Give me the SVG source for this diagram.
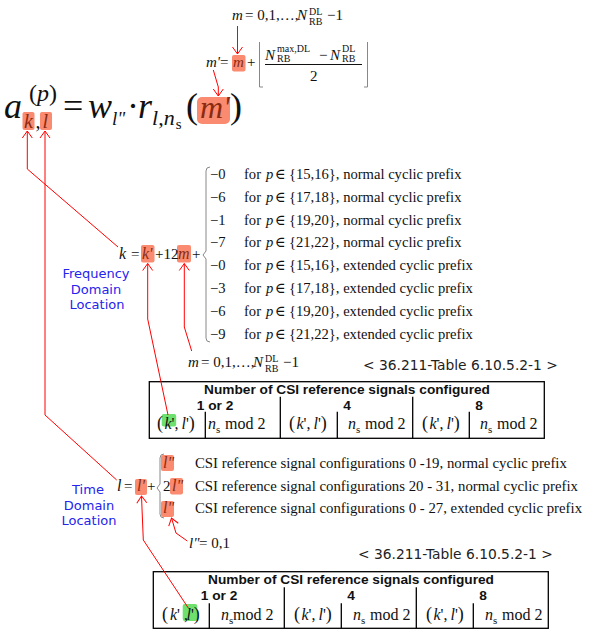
<svg xmlns="http://www.w3.org/2000/svg" width="591" height="633" viewBox="0 0 591 633">
<defs>
<style>
.m{font-family:"Liberation Serif","Times New Roman","DejaVu Serif",serif;fill:#111}
.i{font-style:italic}
.hv{fill:#8a2a10}
.hl{fill:#fa8a70}
.hg{fill:#6ee06e}
.lbl{font-family:"DejaVu Sans",Verdana,sans-serif;font-size:13px;fill:#2424ee;text-anchor:middle}
.cap{font-family:"DejaVu Sans",Verdana,sans-serif;font-size:13.8px;fill:#222}
.th{font-family:"Liberation Sans",Arial,sans-serif;font-size:13.7px;font-weight:bold;fill:#111;text-anchor:middle}
.tb{fill:none;stroke:#000;stroke-width:1.3}
.br{fill:none;stroke:#888;stroke-width:1}
.cn{fill:none;stroke:#f00;stroke-width:1;marker-end:url(#ah)}
</style>
<marker id="ah" viewBox="-9 -6 10 12" markerWidth="10" markerHeight="12" refX="0" refY="0" orient="auto" markerUnits="userSpaceOnUse">
<path d="M-7,-5 L0,0 L-7,5" fill="none" stroke="#f00" stroke-width="1"/>
</marker>
</defs>
<rect width="591" height="633" fill="#fff"/>

<g id="eq-m-range-top" class="m" font-size="15">
<text y="20"><tspan x="232" class="i">m</tspan><tspan x="245">= 0,1,…,</tspan><tspan x="297" class="i">N</tspan></text>
<text x="309" y="15" font-size="10">DL</text>
<text x="309" y="25" font-size="10">RB</text>
<text x="327" y="20">−1</text>
</g>

<g id="eq-mprime" class="m" font-size="15">
<rect class="hl" x="232" y="55" width="13.5" height="16.5" rx="2"/>
<text x="206" y="67" class="i">m'</text>
<text x="220" y="67">=</text>
<text x="233" y="67" class="i hv">m</text>
<text x="247" y="67">+</text>
<path class="br" d="M259.5,42 L259.5,87 L263,87 M367.5,42 L367.5,87 L364,87"/>
<text x="265" y="60" class="i">N</text>
<text x="277" y="52" font-size="10">max,DL</text>
<text x="277" y="62" font-size="10">RB</text>
<text x="319" y="60">−</text>
<text x="330" y="60" class="i">N</text>
<text x="342" y="52" font-size="10">DL</text>
<text x="342" y="62" font-size="10">RB</text>
<line x1="265" y1="64.5" x2="362" y2="64.5" stroke="#111" stroke-width="1"/>
<text x="310" y="81">2</text>
</g>

<g id="eq-main" class="m">
<rect class="hl" x="22.5" y="112" width="12" height="18" rx="2"/>
<rect class="hl" x="40" y="112" width="12" height="18" rx="2"/>
<rect class="hl" x="197" y="97" width="33" height="27" rx="5"/>
<text x="4" y="118" font-size="36" class="i">a</text>
<text x="29" y="101" font-size="24">(<tspan class="i">p</tspan>)</text>
<text y="128" font-size="20"><tspan x="24" class="i hv">k</tspan><tspan x="35.5">,</tspan><tspan x="42.5" class="i hv">l</tspan></text>
<text x="63" y="118" font-size="36">=</text>
<text x="88" y="118" font-size="36" class="i">w</text>
<text x="112" y="125" font-size="19" class="i">l"</text>
<text x="127" y="118" font-size="36">·</text>
<text x="138" y="118" font-size="36" class="i">r</text>
<text x="152" y="125" font-size="22"><tspan class="i">l</tspan>,<tspan class="i">n</tspan><tspan font-size="15" dx="1" dy="4">s</tspan></text>
<text x="186" y="118" font-size="36">(</text>
<text x="200" y="118" font-size="32" class="i hv">m'</text>
<text x="230" y="118" font-size="36">)</text>
</g>

<g id="eq-k" class="m" font-size="15">
<rect class="hl" x="141" y="245" width="13.5" height="17.5" rx="2"/>
<rect class="hl" x="177" y="245" width="14" height="17.5" rx="2"/>
<text x="119" y="259" font-size="16" class="i">k</text>
<text x="131" y="259">=</text>
<text x="142" y="259" font-size="16" class="i hv">k'</text>
<text x="155" y="259">+12</text>
<text x="178" y="259" font-size="16" class="i hv">m</text>
<text x="192" y="259">+</text>
</g>

<g id="k-cases" class="m" font-size="14.6">
<path class="br" d="M210,167 Q206,167 206,171 L206,251 L203,255 L206,259 L206,338 Q206,342 210,342"/>
<text y="179"><tspan x="210">−0</tspan><tspan x="244">for</tspan><tspan x="266" class="i">p</tspan><tspan x="275">∈</tspan><tspan x="289">{15,16}, normal cyclic prefix</tspan></text>
<text y="201.8"><tspan x="210">−6</tspan><tspan x="244">for</tspan><tspan x="266" class="i">p</tspan><tspan x="275">∈</tspan><tspan x="289">{17,18}, normal cyclic prefix</tspan></text>
<text y="224.6"><tspan x="210">−1</tspan><tspan x="244">for</tspan><tspan x="266" class="i">p</tspan><tspan x="275">∈</tspan><tspan x="289">{19,20}, normal cyclic prefix</tspan></text>
<text y="247.4"><tspan x="210">−7</tspan><tspan x="244">for</tspan><tspan x="266" class="i">p</tspan><tspan x="275">∈</tspan><tspan x="289">{21,22}, normal cyclic prefix</tspan></text>
<text y="270.2"><tspan x="210">−0</tspan><tspan x="244">for</tspan><tspan x="266" class="i">p</tspan><tspan x="275">∈</tspan><tspan x="289">{15,16}, extended cyclic prefix</tspan></text>
<text y="293"><tspan x="210">−3</tspan><tspan x="244">for</tspan><tspan x="266" class="i">p</tspan><tspan x="275">∈</tspan><tspan x="289">{17,18}, extended cyclic prefix</tspan></text>
<text y="315.8"><tspan x="210">−6</tspan><tspan x="244">for</tspan><tspan x="266" class="i">p</tspan><tspan x="275">∈</tspan><tspan x="289">{19,20}, extended cyclic prefix</tspan></text>
<text y="338.6"><tspan x="210">−9</tspan><tspan x="244">for</tspan><tspan x="266" class="i">p</tspan><tspan x="275">∈</tspan><tspan x="289">{21,22}, extended cyclic prefix</tspan></text>
</g>

<g id="freq-label">
<text class="lbl" x="96" y="278">Frequency</text>
<text class="lbl" x="96" y="294">Domain</text>
<text class="lbl" x="97" y="309">Location</text>
</g>

<g id="m-range" class="m" font-size="15">
<text y="367"><tspan x="188" class="i">m</tspan><tspan x="201">= 0,1,…,</tspan><tspan x="253" class="i">N</tspan></text>
<text x="265" y="362" font-size="10">DL</text>
<text x="265" y="372" font-size="10">RB</text>
<text x="283" y="367">−1</text>
</g>

<g id="table1-caption"><text class="cap" x="363" y="370">&lt; 36.211-Table 6.10.5.2-1 &gt;</text></g>

<g id="table1">
<rect class="tb" x="149.3" y="381.7" width="395" height="56.6"/>
<path class="tb" d="M280.3,396.7 V438.3 M412.7,396.7 V438.3 M205.3,411.7 V438.3 M337.3,411.7 V438.3 M469.3,411.7 V438.3"/>
<text class="th" x="347" y="394">Number of CSI reference signals configured</text>
<text class="th" x="215" y="410">1 or 2</text>
<text class="th" x="347" y="410">4</text>
<text class="th" x="479" y="410">8</text>
<rect class="hg" x="161.7" y="414" width="14.5" height="12.5" rx="2"/>
<g class="m" font-size="16">
<text y="429"><tspan x="157" font-size="18">(</tspan><tspan x="164.5" class="i">k</tspan>',<tspan x="181.5" class="i">l</tspan>'<tspan font-size="18">)</tspan></text>
<text y="429"><tspan x="208" class="i">n</tspan><tspan font-size="11" dy="4">s</tspan><tspan x="225" dy="-4">mod 2</tspan></text>
<text y="429"><tspan x="289" font-size="18">(</tspan><tspan x="296.5" class="i">k</tspan>',<tspan x="313.5" class="i">l</tspan>'<tspan font-size="18">)</tspan></text>
<text y="429"><tspan x="348" class="i">n</tspan><tspan font-size="11" dy="4">s</tspan><tspan x="365" dy="-4">mod 2</tspan></text>
<text y="429"><tspan x="422" font-size="18">(</tspan><tspan x="429.5" class="i">k</tspan>',<tspan x="446.5" class="i">l</tspan>'<tspan font-size="18">)</tspan></text>
<text y="429"><tspan x="480" class="i">n</tspan><tspan font-size="11" dy="4">s</tspan><tspan x="497" dy="-4">mod 2</tspan></text>
</g>
</g>

<g id="eq-l" class="m" font-size="15">
<rect class="hl" x="135" y="479" width="12" height="16" rx="2"/>
<text x="117" y="491" font-size="16" class="i">l</text>
<text x="124" y="491">=</text>
<text x="137" y="491" font-size="16" class="i hv">l'</text>
<text x="147" y="491">+</text>
</g>

<g id="l-cases" class="m" font-size="14.8">
<path class="br" d="M164,454 Q160,454 160,458 L160,484 L157,488 L160,492 L160,514 Q160,518 164,518"/>
<rect class="hl" x="161" y="455" width="13" height="16" rx="2"/>
<rect class="hl" x="170" y="478" width="13" height="16.5" rx="2"/>
<rect class="hl" x="161" y="501" width="13" height="16" rx="2"/>
<text x="163" y="468" font-size="16" class="i hv">l"</text>
<text x="163" y="491" font-size="15">2</text>
<text x="172" y="491" font-size="16" class="i hv">l"</text>
<text x="163" y="513" font-size="16" class="i hv">l"</text>
<text x="195" y="468">CSI reference signal configurations 0 -19, normal cyclic prefix</text>
<text x="195" y="491">CSI reference signal configurations 20 - 31, normal cyclic prefix</text>
<text x="195" y="513">CSI reference signal configurations 0 - 27, extended cyclic prefix</text>
</g>

<g id="time-label">
<text class="lbl" x="88" y="494">Time</text>
<text class="lbl" x="89" y="510">Domain</text>
<text class="lbl" x="89" y="525">Location</text>
</g>

<g id="lpp-range" class="m" font-size="15">
<text y="548"><tspan x="189" class="i">l"</tspan><tspan x="199">= 0,1</tspan></text>
</g>

<g id="table2-caption"><text class="cap" x="358" y="559">&lt; 36.211-Table 6.10.5.2-1 &gt;</text></g>

<g id="table2">
<rect class="tb" x="153.3" y="571.7" width="395" height="56.6"/>
<path class="tb" d="M284.3,587.3 V628.3 M416.3,587.3 V628.3 M209.3,603.3 V628.3 M341.3,603.3 V628.3 M473.3,603.3 V628.3"/>
<text class="th" x="351" y="583.5">Number of CSI reference signals configured</text>
<text class="th" x="219" y="600">1 or 2</text>
<text class="th" x="351" y="600">4</text>
<text class="th" x="483" y="600">8</text>
<rect class="hg" x="182.7" y="604" width="14.5" height="17" rx="2"/>
<g class="m" font-size="16">
<text y="620"><tspan x="162" font-size="18">(</tspan><tspan x="170" class="i">k</tspan>' ,<tspan x="186.5" class="i">l</tspan>'<tspan font-size="18">)</tspan></text>
<text y="620"><tspan x="221" class="i">n</tspan><tspan font-size="11" dy="4">s</tspan><tspan x="233" dy="-4">mod 2</tspan></text>
<text y="620"><tspan x="294" font-size="18">(</tspan><tspan x="301.5" class="i">k</tspan>',<tspan x="318.5" class="i">l</tspan>'<tspan font-size="18">)</tspan></text>
<text y="620"><tspan x="353" class="i">n</tspan><tspan font-size="11" dy="4">s</tspan><tspan x="370" dy="-4">mod 2</tspan></text>
<text y="620"><tspan x="426" font-size="18">(</tspan><tspan x="433.5" class="i">k</tspan>',<tspan x="450.5" class="i">l</tspan>'<tspan font-size="18">)</tspan></text>
<text y="620"><tspan x="485" class="i">n</tspan><tspan font-size="11" dy="4">s</tspan><tspan x="502" dy="-4">mod 2</tspan></text>
</g>
</g>

<g id="connectors">
<path class="cn" d="M237.5,26 L237.5,54"/>
<path class="cn" d="M213.3,70 L218.3,87 L218.3,96"/>
<path class="cn" d="M118,247 L27.3,169 L27.3,131"/>
<path class="cn" d="M116.7,480 L45,415 L45,131"/>
<path class="cn" d="M168,415 L147.7,319 L147.7,263.5"/>
<path class="cn" d="M191.7,351 L184.3,327 L184.3,263.5"/>
<path class="cn" d="M187.3,541 L176,533 L171.5,518"/>
<path class="cn" d="M188.3,608 L143.3,540 L141.5,496"/>
</g>
</svg>
